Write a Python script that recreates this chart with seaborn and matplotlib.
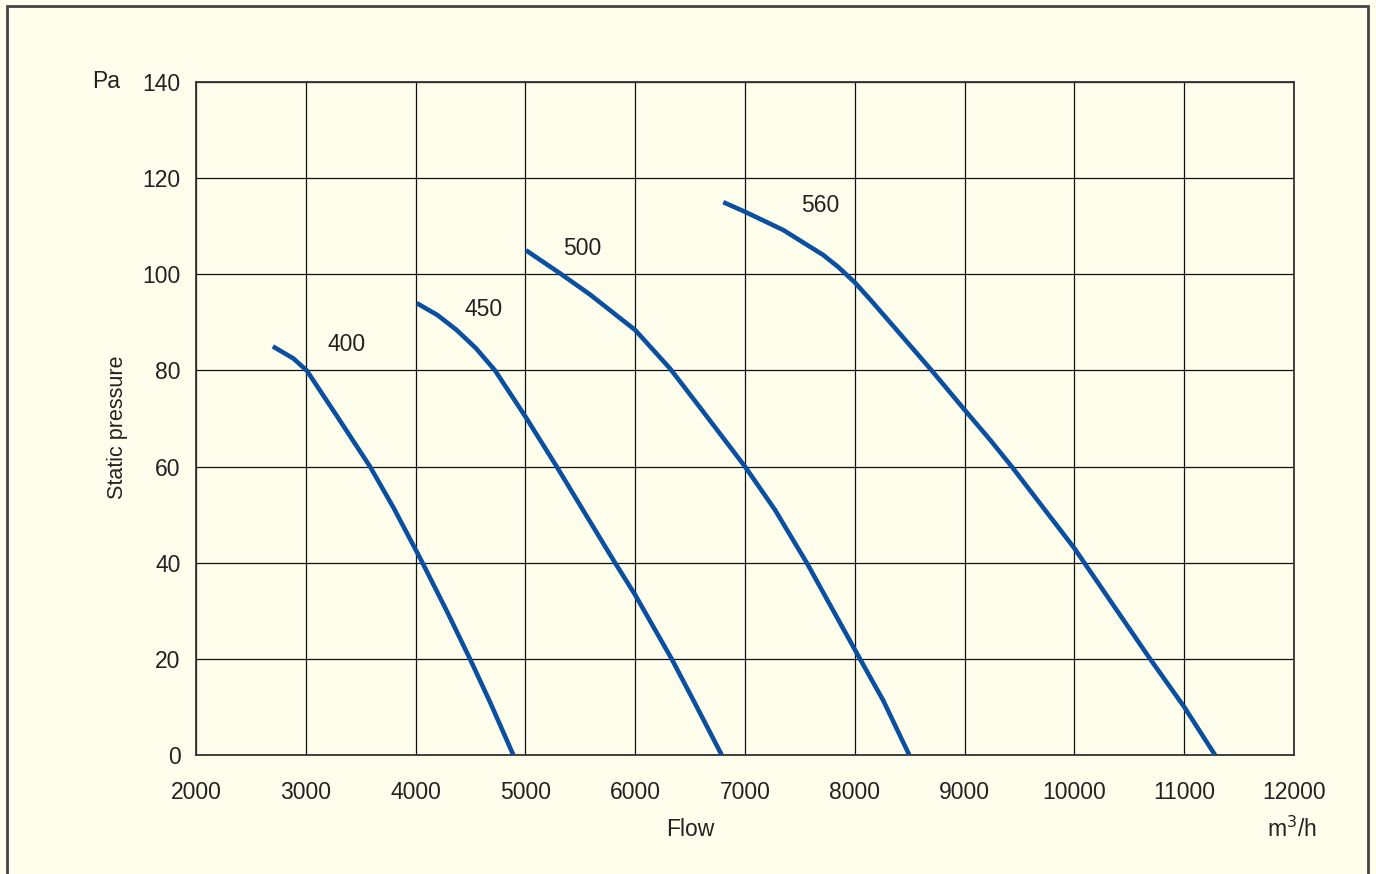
import matplotlib
matplotlib.use('Agg')
import seaborn as sns
import pandas as pd
from matplotlib import pyplot as plt
from matplotlib.patches import Rectangle

# Kennlinien der vier Ventilatorgrößen (Flow in m3/h, statischer Druck in Pa)
flow_400 = [2700, 2886, 3008, 3281, 3585, 3800, 4040, 4283, 4495, 4678, 4890]
pres_400 = [85, 82.5, 80, 70.6, 60, 51.4, 41, 30, 20, 11, 0]

flow_450 = [4010, 4200, 4374, 4550, 4723, 5000, 5285, 5550, 5816, 6000, 6332, 6550, 6788]
pres_450 = [94, 91.5, 88.4, 84.6, 80, 70.4, 60, 50, 40, 33.3, 20, 10.5, 0]

flow_500 = [5005, 5315, 5588, 6000, 6317, 6590, 7000, 7273, 7562, 8047, 8260, 8496]
pres_500 = [105, 100.2, 95.8, 88.4, 80.4, 72.3, 60, 51, 40, 20, 11.3, 0]

flow_560 = [6802, 7000, 7349, 7713, 7850, 8000, 8150, 8291, 8700, 9000, 9231, 9429,
            10000, 10689, 11000, 11281]
pres_560 = [115, 113, 109.2, 104, 101.5, 98.3, 94.5, 90.8, 80, 71.8, 65.6, 60,
            43, 20, 10.0, 0]

sizes = ['400', '450', '500', '560']
label_x = [3372, 4617, 5518, 7683]
label_y = [85.3, 92.7, 105.3, 114.4]

xticks = list(range(2000, 12001, 1000))
yticks = list(range(0, 141, 20))

frames = []
for name, fl, pr in zip(sizes, [flow_400, flow_450, flow_500, flow_560],
                        [pres_400, pres_450, pres_500, pres_560]):
    frames.append(pd.DataFrame({'Flow': fl, 'Pressure': pr, 'Size': name}))
df = pd.concat(frames, ignore_index=True)

bg = '#FFFDEC'
blue = '#0A4FA0'
txt = '#222222'

sns.set_style('white')
plt.rcParams['font.family'] = ['Liberation Sans', 'DejaVu Sans']

fig = plt.figure(figsize=(13.76, 8.74), dpi=100, facecolor=bg)
ax = fig.add_axes([196 / 1376, 1 - 755 / 874, (1294 - 196) / 1376, (755 - 82) / 874])
ax.set_facecolor(bg)

sns.lineplot(data=df, x='Flow', y='Pressure', units='Size', estimator=None,
             sort=False, color=blue, linewidth=3.3, ax=ax, zorder=3,
             solid_joinstyle='round', solid_capstyle='butt')

for s, lx, ly in zip(sizes, label_x, label_y):
    ax.text(lx, ly, s, fontsize=16.5, color=txt, ha='center', va='center')

ax.set_xlim(2000, 12000)
ax.set_ylim(0, 140)
ax.set_xticks(xticks)
ax.set_yticks(yticks)
ax.grid(True, color='#111111', linewidth=0.9)
ax.set_axisbelow(True)
ax.tick_params(axis='x', length=0, pad=19, labelsize=16.5, labelcolor=txt)
ax.tick_params(axis='y', length=0, pad=11, labelsize=16.5, labelcolor=txt)
for sp in ax.spines.values():
    sp.set_color('#333333')
    sp.set_linewidth(1.3)
ax.set_xlabel('')
ax.set_ylabel('')

fig.text(118 / 1376, 1 - 427 / 874, 'Static pressure', rotation=90, fontsize=15.5,
         color=txt, ha='center', va='center')
fig.text(106 / 1376, 1 - 82 / 874, 'Pa', fontsize=16.5, color=txt,
         ha='center', va='center')
fig.text(690 / 1376, 1 - 830 / 874, 'Flow', fontsize=16.5, color=txt,
         ha='center', va='center')
fig.text(1292 / 1376, 1 - 829 / 874, 'm$^3$/h', fontsize=16.5, color=txt,
         ha='center', va='center')

# Rahmen um die ganze Abbildung (unten abgeschnitten)
fig.patches.append(Rectangle((7 / 1376, -0.05), (1368 - 7) / 1376, 1.05 - 6 / 874,
                             transform=fig.transFigure, fill=False,
                             edgecolor='#444444', linewidth=2, clip_on=True))

fig.savefig('out.png', dpi=100, facecolor=bg)
